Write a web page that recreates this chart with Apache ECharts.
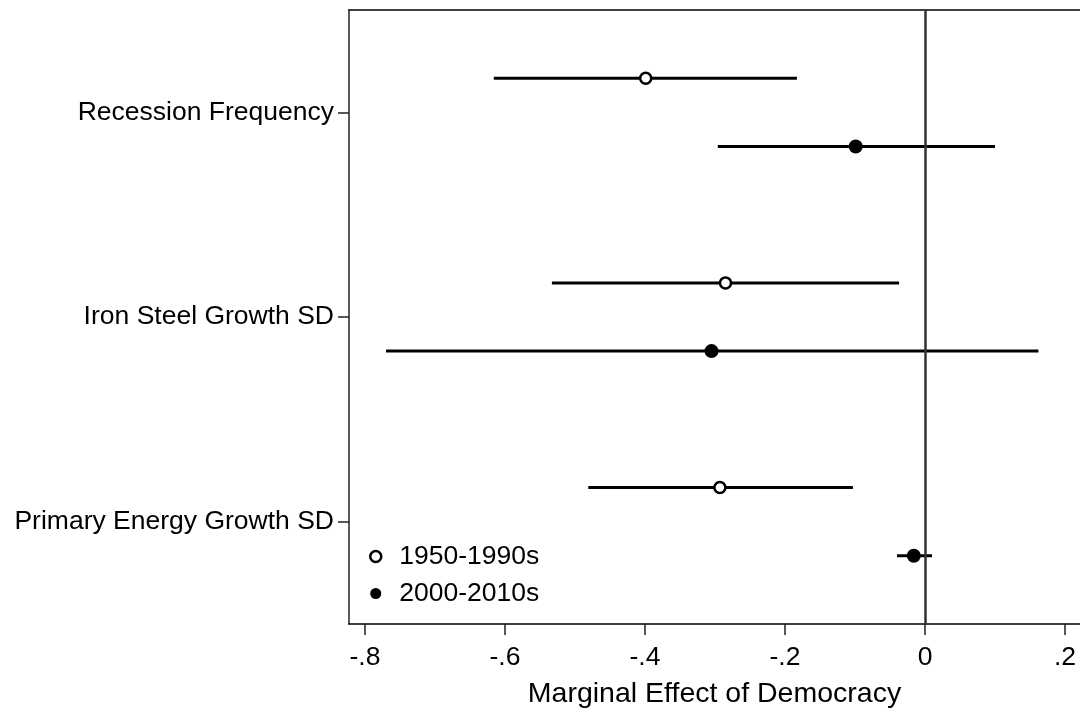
<!DOCTYPE html>
<html>
<head>
<meta charset="utf-8">
<script src="https://cdn.jsdelivr.net/npm/echarts@6/dist/echarts.min.js"></script>
<style>
html,body{margin:0;padding:0;background:#fff;}
#chart{width:1080px;height:711px;}
</style>
</head>
<body>
<div id="chart"></div>
<script>
// Data
var categories = ['Recession Frequency', 'Iron Steel Growth SD', 'Primary Energy Growth SD'];
var categoryPos = [3, 2, 1];
var seriesNames = ['1950-1990s', '2000-2010s'];
var earlyEst = [-0.399, -0.285, -0.293];
var earlyLo  = [-0.616, -0.533, -0.481];
var earlyHi  = [-0.183, -0.037, -0.103];
var lateEst  = [-0.099, -0.305, -0.016];
var lateLo   = [-0.296, -0.770, -0.040];
var lateHi   = [0.100, 0.162, 0.010];
var xTicks = [-0.8, -0.6, -0.4, -0.2, 0, 0.2];
var xTickLabels = ['-.8', '-.6', '-.4', '-.2', '0', '.2'];
var xTitle = 'Marginal Effect of Democracy';

var offset = 1 / 6;
var FONT = 'Liberation Sans, Arial, sans-serif';

function ciData(lo, hi, shift) {
  return lo.map(function (v, i) { return [v, hi[i], categoryPos[i] + shift]; });
}
function ptData(est, shift) {
  return est.map(function (v, i) { return [v, categoryPos[i] + shift]; });
}
function renderCI(params, api) {
  var a = api.coord([api.value(0), api.value(2)]);
  var b = api.coord([api.value(1), api.value(2)]);
  return {
    type: 'line',
    shape: { x1: a[0], y1: a[1], x2: b[0], y2: b[1] },
    style: { stroke: '#000', lineWidth: 3 }
  };
}

var chart = echarts.init(document.getElementById('chart'), null, { renderer: 'canvas' });
var xMin = -0.82286, xMax = 0.22143;
chart.setOption({
  animation: false,
  backgroundColor: '#fff',
  grid: { left: 349, right: 0, top: 10, bottom: 87, show: false, containLabel: false, outerBoundsMode: 'none' },
  legend: {
    orient: 'vertical', left: 369, top: 543, padding: 0,
    itemWidth: 11, itemHeight: 11, itemGap: 10,
    data: [
      { name: seriesNames[0], icon: 'circle', itemStyle: { color: '#fff', borderColor: '#000', borderWidth: 2.5 } },
      { name: seriesNames[1], icon: 'circle', itemStyle: { color: '#000', borderWidth: 0 } }
    ],
    textStyle: { fontFamily: FONT, fontSize: 26.5, color: '#000', lineHeight: 26, padding: [0, 0, 0, 13] }
  },
  xAxis: [{
    type: 'value', min: xMin, max: xMax, position: 'bottom',
    name: xTitle, nameLocation: 'middle', nameGap: 56,
    nameTextStyle: { fontFamily: FONT, fontSize: 28.5, color: '#000' },
    axisLine: { show: true, onZero: false, lineStyle: { color: '#000', width: 1.5 } },
    axisTick: { show: true, length: 11, lineStyle: { color: '#222', width: 1.5 }, customValues: xTicks },
    axisLabel: {
      fontFamily: FONT, fontSize: 26.5, color: '#000', margin: 20,
      customValues: xTicks,
      formatter: function (v) {
        for (var i = 0; i < xTicks.length; i++) if (Math.abs(v - xTicks[i]) < 1e-6) return xTickLabels[i];
        return '';
      }
    },
    splitLine: { show: false }
  }, {
    type: 'value', min: xMin, max: xMax, position: 'top',
    axisLine: { show: true, onZero: false, lineStyle: { color: '#000', width: 1.5 } },
    axisTick: { show: false }, axisLabel: { show: false }, splitLine: { show: false }
  }],
  yAxis: {
    type: 'value', min: 0.5, max: 3.5,
    axisLine: { show: true, onZero: false, lineStyle: { color: '#222', width: 1.5 } },
    axisTick: { show: true, length: 11, lineStyle: { color: '#222', width: 1.5 }, customValues: categoryPos },
    axisLabel: {
      fontFamily: FONT, fontSize: 26.5, color: '#000', margin: 15,
      customValues: categoryPos,
      formatter: function (v) {
        var i = categoryPos.indexOf(Math.round(v));
        return i >= 0 ? categories[i] : '';
      }
    },
    splitLine: { show: false }
  },
  series: [
    {
      type: 'custom', name: 'ciEarly', renderItem: renderCI, data: ciData(earlyLo, earlyHi, offset),
      encode: { x: [0, 1], y: 2 }, z: 2, silent: true,
      markLine: {
        silent: true, symbol: ['none', 'none'], label: { show: false },
        lineStyle: { color: '#333', width: 2.5, type: 'solid' },
        data: [{ xAxis: 0 }]
      }
    },
    {
      type: 'custom', name: 'ciLate', renderItem: renderCI, data: ciData(lateLo, lateHi, -offset),
      encode: { x: [0, 1], y: 2 }, z: 2, silent: true
    },
    {
      type: 'scatter', name: seriesNames[0], data: ptData(earlyEst, offset),
      symbol: 'circle', symbolSize: 11, z: 5,
      itemStyle: { color: '#fff', borderColor: '#000', borderWidth: 2.5, opacity: 1 }
    },
    {
      type: 'scatter', name: seriesNames[1], data: ptData(lateEst, -offset),
      symbol: 'circle', symbolSize: 14, z: 5,
      itemStyle: { color: '#000', opacity: 1 }
    }
  ]
});
</script>
</body>
</html>
